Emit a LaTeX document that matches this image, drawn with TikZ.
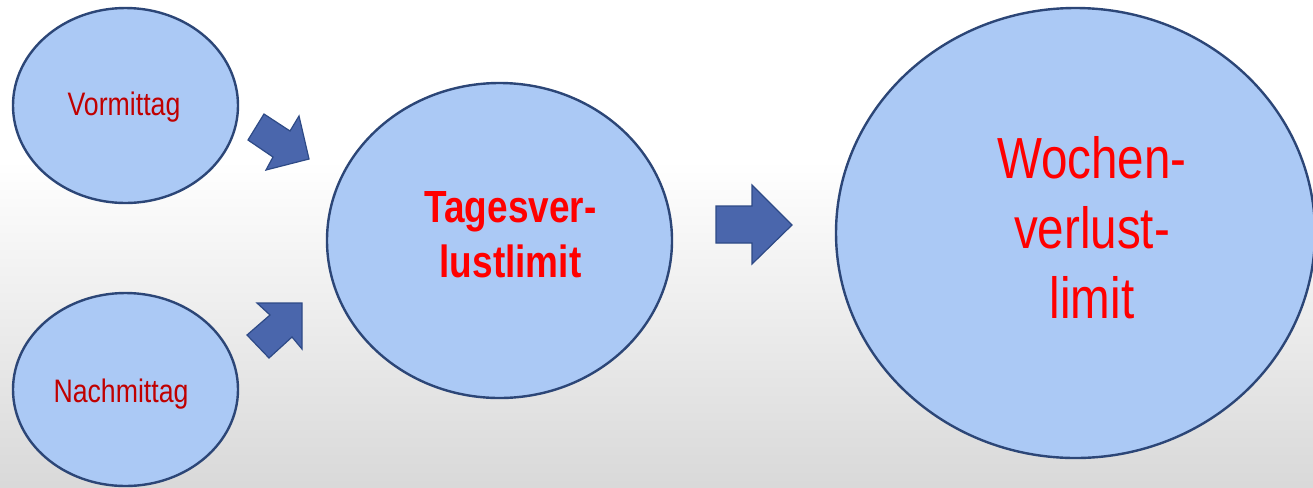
\documentclass[tikz,border=0pt]{standalone}
\usepackage{fontspec}
\usetikzlibrary{shapes.geometric}
\newfontfamily\narrow[FakeStretch=0.82]{Liberation Sans}
\definecolor{ellfill}{HTML}{ABC9F5}
\definecolor{elldraw}{HTML}{2C4677}
\definecolor{arrfill}{HTML}{4A66AC}
\definecolor{arrdraw}{HTML}{2E4A86}
\definecolor{darkredtxt}{HTML}{C00000}
\definecolor{redtxt}{HTML}{FF0000}
\tikzset{
  bubble/.style={ellipse, draw=elldraw, fill=ellfill, line width=1.8pt, inner sep=0pt},
  blockarrow/.style={draw=arrdraw, fill=arrfill, line width=0.9pt, line join=miter},
  smalltxt/.style={text=darkredtxt, inner sep=0pt, anchor=base, font=\narrow\fontsize{24.4pt}{29pt}\selectfont},
}
\begin{document}
\begin{tikzpicture}[x=0.75pt, y=-0.75pt]
\useasboundingbox (0,0) rectangle (1313,487);
\clip (0,0) rectangle (1313,487);
% background
\fill[white] (0,0) rectangle (1313,160);
\shade[top color=white, bottom color=black!15] (0,160) rectangle (1313,487);

% ellipses
\node[bubble, minimum width=168.75pt, minimum height=146.25pt] (vm) at (125.5,105.5) {};
\node[bubble, minimum width=168.75pt, minimum height=144.75pt] (nm) at (125.5,389.5) {};
\node[bubble, minimum width=258.75pt, minimum height=236.25pt] (tv) at (499.5,240.5) {};
\node[bubble, minimum width=359.25pt, minimum height=337.5pt] (wv) at (1075.5,233) {};

% texts
\node[smalltxt] (vmt) at (124,115) {Vormittag};
\node[smalltxt] (nmt) at (121,402) {Nachmittag};
\node[text=redtxt, inner sep=0pt, anchor=base, align=center,
      font=\narrow\bfseries\fontsize{33.8pt}{41.25pt}\selectfont] (tvt) at (510.5,277) {Tagesver-\\lustlimit};
\node[text=redtxt, inner sep=0pt, anchor=base, align=center,
      font=\narrow\fontsize{43.5pt}{52.5pt}\selectfont] (wvt) at (1092,318) {Wochen-\\verlust-\\limit};

% block arrows
\draw[blockarrow] (248,140) -- (264,114) -- (290,131) -- (299,116) -- (309,159) -- (266,170) -- (273,157) -- cycle;
\draw[blockarrow] (257,303) -- (302,303) -- (302,349) -- (292,337) -- (269,358) -- (247,335) -- (270,315) -- cycle;
\draw[blockarrow] (716,206) -- (752,206) -- (752,185) -- (792,225) -- (752,264) -- (752,243) -- (716,243) -- cycle;
\end{tikzpicture}
\end{document}
